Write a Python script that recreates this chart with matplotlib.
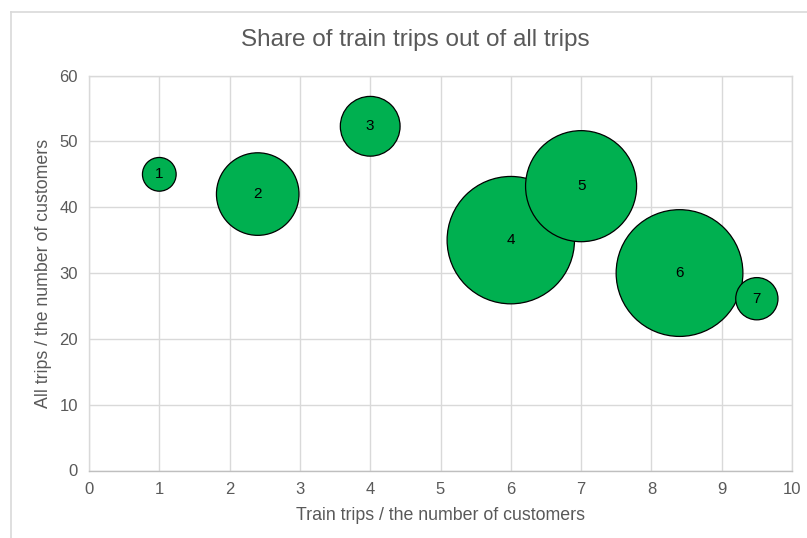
import matplotlib
matplotlib.use("Agg")
import matplotlib.pyplot as plt
from matplotlib.lines import Line2D

plt.rcParams["font.family"] = ["Liberation Sans", "DejaVu Sans"]

# bubble data
labels = ["1", "2", "3", "4", "5", "6", "7"]
train_trips = [1.0, 2.4, 4.0, 6.0, 7.0, 8.4, 9.5]
all_trips = [45.0, 42.0, 52.3, 35.0, 43.2, 30.0, 26.1]
bubble_size = [7, 42, 22, 100, 76, 99, 11]

grey = "#595959"
grid = "#d9d9d9"
green = "#00b050"

W, H, DPI = 807, 538, 100
fig = plt.figure(figsize=(W / DPI, H / DPI), dpi=DPI)
ax = fig.add_axes([89 / W, 1 - 470.5 / H, (792 - 89) / W, (470.5 - 75.6) / H])

# largest bubble ~63.7 px radius
max_r_pt = 63.7 * 72 / DPI
s = [b / max(bubble_size) * (2 * max_r_pt) ** 2 for b in bubble_size]

ax.scatter(train_trips, all_trips, s=s, color=green, edgecolor="black",
           linewidth=0.9, zorder=3)
for lab, x, y in zip(labels, train_trips, all_trips):
    ax.text(x, y, lab, ha="center", va="center", fontsize=11, color="black",
            zorder=4)

ax.set_xlim(0, 10)
ax.set_ylim(0, 60)
ax.set_xticks(range(0, 11))
ax.set_yticks(range(0, 61, 10))
ax.grid(True, color=grid, linewidth=1.0, zorder=0)
ax.set_axisbelow(True)
for sp in ax.spines.values():
    sp.set_color(grid)
    sp.set_linewidth(1.0)
ax.spines["bottom"].set_color("#bfbfbf")
ax.tick_params(length=0, labelsize=12, labelcolor=grey, pad=8)

ax.set_xlabel("Train trips / the number of customers", fontsize=12.8,
              color=grey)
ax.set_ylabel("All trips / the number of customers", fontsize=12.8,
              color=grey)
ax.xaxis.set_label_coords(0.5, -(515 - 470.5) / (470.5 - 75.6))
ax.yaxis.set_label_coords(-(89 - 43) / (792 - 89), 0.5)
ax.xaxis.label.set_va("center")
ax.yaxis.label.set_va("center")

fig.text(415 / W, 1 - 40 / H, "Share of train trips out of all trips",
         ha="center", va="center", fontsize=17.5, color=grey)

# chart area border (cropped at right and bottom)
fig.add_artist(Line2D([11 / W, 11 / W], [0, 1 - 12 / H], color=grid, lw=1.2))
fig.add_artist(Line2D([11 / W, 1], [1 - 12 / H, 1 - 12 / H], color=grid, lw=1.2))

fig.savefig("out.png", dpi=DPI)
